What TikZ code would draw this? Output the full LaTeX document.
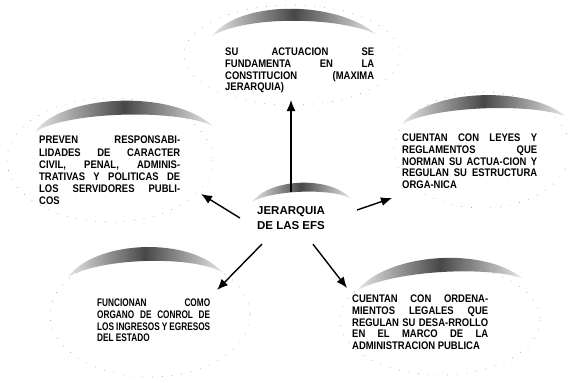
\documentclass[tikz,border=0pt]{standalone}
\usepackage{fontspec}
\setmainfont{Liberation Sans}
\newfontfamily\negrita{Liberation Sans Bold}
\newfontfamily\cajafont[FakeStretch=0.86]{Liberation Sans Bold}
\newfontfamily\angosta[FakeStretch=0.75]{Liberation Sans Bold}
\usetikzlibrary{arrows.meta}

\begin{document}
\begin{tikzpicture}[x=1pt,y=-1pt,
  caja/.style={anchor=north west,inner sep=0pt,align=justify,
    font=\cajafont\fontsize{11}{11.7}\selectfont,
    execute at begin node={\tolerance=10000\hyphenpenalty=10000\exhyphenpenalty=10000}},
  flecha/.style={line width=1.4pt,-{Latex[length=11pt,width=9pt]}},
  mancha/.style={left color=black!10,right color=black!10,middle color=black!72},
  contorno/.style={draw=black!35,line width=0.7pt,dash pattern=on 0.7pt off 9pt}]
  \path[fill=white,use as bounding box] (0,0) rectangle (568,383);

  % contornos punteados
  \draw[contorno] (292,55) ellipse [x radius=108,y radius=50];
  \draw[contorno] (110,160) ellipse [x radius=103,y radius=62];
  \draw[contorno] (482,150) ellipse [x radius=88,y radius=58];
  \draw[contorno] (150,315) ellipse [x radius=100,y radius=62];
  \draw[contorno] (440,320) ellipse [x radius=100,y radius=55];

  % manchas
  \shade[mancha] (212,36) .. controls (240,0) and (335,0) .. (376,34)
    .. controls (335,16) and (245,16) .. cycle;
  \shade[mancha] (35,132) .. controls (60,95) and (170,88) .. (213,126)
    .. controls (175,108) and (65,112) .. cycle;
  \shade[mancha] (402,124) .. controls (430,88) and (530,86) .. (565,116)
    .. controls (530,103) and (435,106) .. cycle;
  \shade[mancha] (252,202) .. controls (270,178) and (330,176) .. (350,198)
    .. controls (330,188) and (272,190) .. cycle;
  \shade[mancha] (68,277) .. controls (95,240) and (190,236) .. (222,272)
    .. controls (190,255) and (100,258) .. cycle;
  \shade[mancha] (358,290) .. controls (385,255) and (480,245) .. (522,278)
    .. controls (480,265) and (390,272) .. cycle;

  \node[font=\negrita\fontsize{11.5}{15}\selectfont,align=center,
    inner xsep=17pt,inner ysep=14.4pt] (centro) at (291,218) {JERARQUIA\\DE LAS EFS};

  \node[caja,text width=149pt] (fundamento) at (225,48)
    {SU ACTUACION SE\linebreak FUNDAMENTA EN LA\linebreak CONSTITUCION (MAXIMA\linebreak JERARQUIA)};
  \node[caja,text width=141pt,font=\cajafont\fontsize{11}{12.2}\selectfont] (responsab) at (39,136)
    {PREVEN RESPONSABI-\linebreak LIDADES DE CARACTER\linebreak CIVIL, PENAL, ADMINIS-\linebreak TRATIVAS Y POLITICAS DE\linebreak LOS SERVIDORES PUBLI-\linebreak COS};
  \node[caja,text width=135pt] (leyes) at (402,134)
    {CUENTAN CON LEYES Y\linebreak REGLAMENTOS QUE\linebreak NORMAN SU ACTUA-CION Y\linebreak REGULAN SU ESTRUCTURA\linebreak ORGA-NICA};
  \node[caja,text width=113pt,font=\angosta\fontsize{11}{11.7}\selectfont] (control) at (97,299)
    {FUNCIONAN COMO\linebreak ORGANO DE CONROL DE\linebreak LOS INGRESOS Y EGRESOS\linebreak DEL ESTADO};
  \node[caja,text width=136pt] (ordenam) at (352,295)
    {CUENTAN CON ORDENA-\linebreak MIENTOS LEGALES QUE\linebreak REGULAN SU DESA-RROLLO\linebreak EN EL MARCO DE LA\linebreak ADMINISTRACION PUBLICA};

  \coordinate (puntasup) at (291,100);
  \coordinate (puntaizq) at (201,194);
  \coordinate (puntader) at (392,198);
  \coordinate (puntaii) at (217,290);
  \coordinate (puntaid) at (347,288);

  \draw[flecha] (centro.north) -- (puntasup);
  \draw[flecha] (centro.west) -- (puntaizq);
  \draw[flecha] ([xshift=15pt,yshift=8pt]centro.east) -- (puntader);
  \draw[flecha] (centro.222) -- (puntaii);
  \draw[flecha] (centro.310) -- (puntaid);
\end{tikzpicture}
\end{document}
